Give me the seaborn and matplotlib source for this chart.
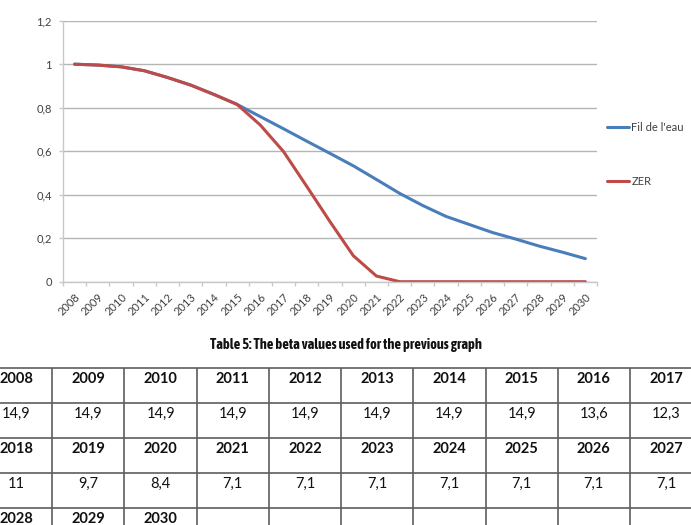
import numpy as np
import pandas as pd
import matplotlib
matplotlib.use("Agg")
import matplotlib.pyplot as plt
import seaborn as sns
from matplotlib import font_manager
from matplotlib.font_manager import FontProperties

# ---------------- data ----------------
years = [2008, 2009, 2010, 2011, 2012, 2013, 2014, 2015, 2016, 2017, 2018,
         2019, 2020, 2021, 2022, 2023, 2024, 2025, 2026, 2027, 2028, 2029, 2030]
fil_de_leau = [1.0, 0.996, 0.988, 0.970, 0.939, 0.904, 0.861, 0.815, 0.759, 0.703,
               0.646, 0.590, 0.533, 0.470, 0.406, 0.350, 0.300, 0.263, 0.226,
               0.196, 0.164, 0.136, 0.106]
zer = [1.0, 0.996, 0.988, 0.970, 0.939, 0.904, 0.861, 0.815, 0.720, 0.598,
       0.438, 0.276, 0.120, 0.026, 0.0, 0.0, 0.0, 0.0, 0.0, 0.0, 0.0, 0.0, 0.0]
series_names = ["Fil de l'eau", "ZER"]
series_colors = ["#4A7EBB", "#BE4B48"]
yticks = [0, 0.2, 0.4, 0.6, 0.8, 1.0, 1.2]
ytick_labels = ["0", "0,2", "0,4", "0,6", "0,8", "1", "1,2"]

caption = "Table 5: The beta values used for the previous graph"
table_year_rows = [
    ["2008", "2009", "2010", "2011", "2012", "2013", "2014", "2015", "2016", "2017"],
    ["2018", "2019", "2020", "2021", "2022", "2023", "2024", "2025", "2026", "2027"],
    ["2028", "2029", "2030", "", "", "", "", "", "", ""],
]
table_beta_rows = [
    ["14,9", "14,9", "14,9", "14,9", "14,9", "14,9", "14,9", "14,9", "13,6", "12,3"],
    ["11", "9,7", "8,4", "7,1", "7,1", "7,1", "7,1", "7,1", "7,1", "7,1"],
    ["", "", "", "", "", "", "", "", "", ""],
]

# ---------------- style ----------------
sns.set_theme(style="white")
plt.rcParams["font.family"] = ["Lato", "DejaVu Sans"]

# narrow bold face for the caption (condensed if installed)
cands = [f for f in font_manager.fontManager.ttflist
         if f.stretch == "condensed" and f.weight in ("bold", 700)
         and f.style == "normal"]
cands.sort(key=lambda f: (0 if "Liberation" in f.name else 1, f.name))
if cands:
    caption_fp = FontProperties(fname=cands[0].fname, size=10.4)
else:
    caption_fp = FontProperties(family="Liberation Sans", weight="bold", size=8.8)

W, H = 691, 525
fig = plt.figure(figsize=(W / 100, H / 100), dpi=100)
fig.patch.set_facecolor("white")

# chart axes (pixel geometry of the reference)
ax_l, ax_r, ax_t, ax_b = 63, 597, 20.7, 281.7
ax = fig.add_axes([ax_l / W, 1 - ax_b / H, (ax_r - ax_l) / W, (ax_b - ax_t) / H])

pos = np.arange(len(years))
df = pd.DataFrame({
    "pos": np.concatenate([pos, pos]),
    "value": fil_de_leau + zer,
    "series": [series_names[0]] * len(years) + [series_names[1]] * len(years),
})
sns.lineplot(data=df, x="pos", y="value", hue="series", hue_order=series_names,
             palette=series_colors, linewidth=2.2, ax=ax, legend=True)

ax.set_xlim(-0.5, len(years) - 0.5)
ax.set_ylim(0, 1.2)
ax.set_xlabel("")
ax.set_ylabel("")

grid_c = "#b5b5b5"
ax.yaxis.grid(True, color=grid_c, linewidth=1.0)
ax.xaxis.grid(False)
ax.set_axisbelow(True)
for s in ["top", "right"]:
    ax.spines[s].set_visible(False)
ax.spines["left"].set_color("#c8c8c8")
ax.spines["bottom"].set_color("#c8c8c8")
ax.spines["left"].set_linewidth(1.0)
ax.spines["bottom"].set_linewidth(1.0)

ax.set_yticks(yticks)
ax.set_yticklabels(ytick_labels)
ax.tick_params(axis="y", left=True, length=3, width=1, color="#c8c8c8",
               labelsize=8, labelcolor="#404040", pad=5)

ax.set_xticks(np.arange(-0.5, len(years), 1.0))
ax.set_xticklabels([])
ax.set_xticks(pos, minor=True)
ax.set_xticklabels([str(y) for y in years], minor=True, rotation=45,
                   ha="right", va="top", rotation_mode="anchor")
ax.tick_params(axis="x", which="major", bottom=True, length=3, width=1,
               color="#c8c8c8")
ax.tick_params(axis="x", which="minor", bottom=True, length=0, labelsize=8,
               labelcolor="#404040", pad=7)

sns.move_legend(ax, loc="upper left", bbox_to_anchor=(607 / W, 1 - 122 / H),
                bbox_transform=fig.transFigure, frameon=False, title=None,
                fontsize=8, handlelength=2.0, handletextpad=0.2,
                labelspacing=3.9, borderpad=0, borderaxespad=0)
for t in ax.get_legend().get_texts():
    t.set_color("#404040")

# ---------------- caption and table ----------------
tab = fig.add_axes([0, 0, 1, 1])
tab.set_xlim(0, W)
tab.set_ylim(H, 0)
tab.axis("off")
tab.patch.set_visible(False)

tab.text(345.5, 345, caption, ha="center", va="center", color="#111111",
         fontproperties=caption_fp)

col_w = 72.2
x0 = -19.9
row_h = 34.85
y0 = 368.3
ncols = 10
nrows = 6
line_c = "#5e5e5e"
for k in range(ncols + 1):
    tab.plot([x0 + k * col_w] * 2, [y0, y0 + nrows * row_h], color=line_c,
             lw=1.2, solid_capstyle="butt")
for r in range(nrows + 1):
    tab.plot([x0, x0 + ncols * col_w], [y0 + r * row_h] * 2, color=line_c,
             lw=1.2, solid_capstyle="butt")

for gi in range(len(table_year_rows)):
    yr_row = table_year_rows[gi]
    bv_row = table_beta_rows[gi]
    top_year = y0 + (2 * gi) * row_h
    top_beta = y0 + (2 * gi + 1) * row_h
    for c in range(ncols):
        cx = x0 + (c + 0.5) * col_w
        if yr_row[c]:
            tab.text(cx, top_year + 11, yr_row[c], ha="center", va="center",
                     fontsize=10.5, fontweight="bold", color="#111111")
        if bv_row[c]:
            tab.text(cx, top_beta + 11, bv_row[c], ha="center", va="center",
                     fontsize=10.5, color="#111111")

fig.savefig("out.png", dpi=100, facecolor="white")
